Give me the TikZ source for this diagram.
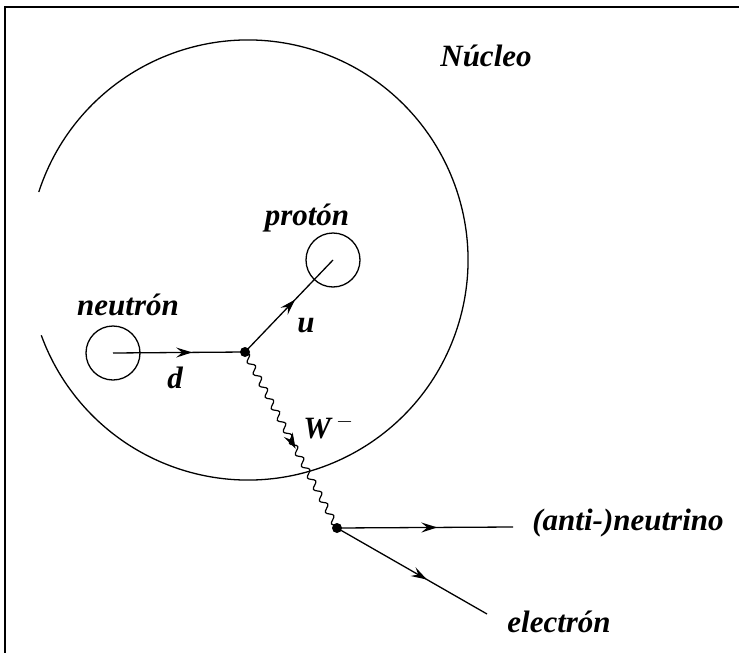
\documentclass[tikz,border=0pt]{standalone}
\usepackage{fontspec}
\setmainfont{Liberation Serif}
\usetikzlibrary{arrows.meta}
\usetikzlibrary{decorations.markings, decorations.pathmorphing, math}

\tikzset{
  lbl/.style={font=\fontsize{15.5}{18}\selectfont\bfseries\itshape, inner sep=0pt},
  fermion/.style={line width=0.65pt,
    decoration={markings, mark=at position #1 with {\arrow{Stealth[length=8pt,width=5pt,inset=3pt]}}},
    postaction={decorate}},
  fermion/.default=0.55,
  hadron/.style={circle, draw, line width=0.65pt, inner sep=0pt, minimum size=27pt},
}

\begin{document}
\begin{tikzpicture}[x=0.5pt, y=-0.5pt]
\tikzmath{
\R=220;
\dot=5;
}
\useasboundingbox (0,0) rectangle (739,653);
%frame
\draw[line width=1pt] (5,653) -- (5,7) -- (739,7);
%nucleus
\draw[line width=0.65pt] (248,260) ++(198:\R) arc[start angle=198, end angle=520, radius=\R];
%nucleons
\node[hadron] (neutron) at (113,353) {};
\node[hadron] (proton) at (333,260) {};
%vertices
\coordinate (vA) at (245,352);
\coordinate (vB) at (337,528);
\coordinate (nuend) at (513,527);
\coordinate (eend) at (487,614);
%quarks
\draw[fermion=0.6] (neutron.center) -- (vA);
\draw[fermion=0.57] (vA) -- (proton.center);
%boson
\draw[line width=0.6pt, decorate, decoration={snake, amplitude=1.5pt, segment length=6.5pt}] (vA) -- (vB);
\path[decoration={markings, mark=at position 0.55 with {\arrow{Stealth[length=8pt,width=5pt,inset=3pt]}}}, decorate] (vA) -- (vB);
%leptons
\draw[fermion=0.57] (vB) -- (nuend);
\draw[fermion=0.6] (vB) -- (eend);
\fill (vA) circle[radius=\dot];
\fill (vB) circle[radius=\dot];
%labels
\node[lbl] (nucleo) at (486,56) {Núcleo};
\node[lbl, anchor=base] (neutronlbl) at (128,315) {neutrón};
\node[lbl, anchor=base] (protonlbl) at (307,225) {protón};
\node[lbl, anchor=base] (dlbl) at (175,388) {d};
\node[lbl, anchor=base] (ulbl) at (306,332) {u};
\node[lbl, anchor=base west] (wlbl) at (303,438) {W\,$^{-}$};
\node[lbl, anchor=base west] (nulbl) at (532,530) {(anti-)neutrino};
\node[lbl, anchor=base west] (elbl) at (507,632) {electrón};
\end{tikzpicture}
\end{document}
